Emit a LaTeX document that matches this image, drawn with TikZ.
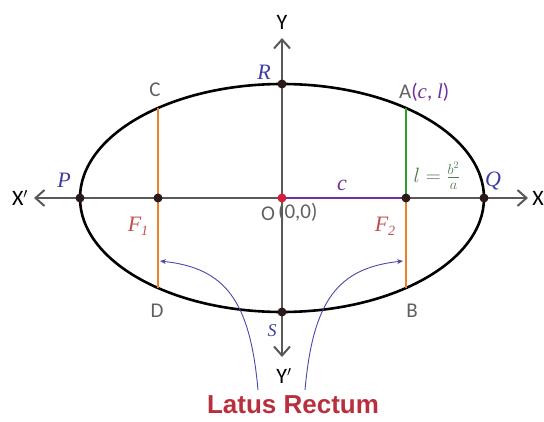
\documentclass[tikz,border=0pt]{standalone}
\usepackage{fontspec}
\setmainfont{Carlito}
\setsansfont{Liberation Sans}
\newfontfamily\lblserif{Liberation Serif}
\usetikzlibrary{arrows.meta}
\definecolor{axisgray}{HTML}{595959}
\definecolor{lblgray}{HTML}{606060}
\definecolor{ptblue}{HTML}{3C3CA8}
\definecolor{focred}{HTML}{C0504D}
\definecolor{cpurple}{HTML}{7030A0}
\definecolor{lrorange}{HTML}{F07D28}
\definecolor{lrgreen}{HTML}{2E9E2E}
\definecolor{eqgreen}{HTML}{4E7A4E}
\definecolor{arcblue}{HTML}{4848A8}
\definecolor{titlered}{HTML}{B8303E}
\definecolor{dotdark}{HTML}{2A1A1A}
\definecolor{dotred}{HTML}{D0203C}
\newcommand{\seritl}[1]{{\lblserif\itshape #1}}
\newcommand{\subnum}[1]{\raisebox{-4pt}{\fontsize{14}{14}\selectfont\lblserif #1}}
\tikzset{
  axisline/.style={draw=axisgray, line width=2.8pt, -{Straight Barb[length=9pt,width=16pt,line width=2pt]}},
  lrline/.style={line width=2.2pt},
  dotpt/.style={circle, fill=dotdark, inner sep=0pt, minimum size=9pt},
  lbl/.style={font=\fontsize{21}{21}\selectfont, text=lblgray, inner sep=0pt},
  axlbl/.style={font=\fontsize{22}{22}\selectfont, text=black, inner sep=0pt},
  mlbl/.style={font=\fontsize{22}{22}\selectfont\lblserif\itshape, inner sep=0pt},
  arcline/.style={draw=arcblue, line width=0.9pt, -{Stealth[length=6pt,width=5pt]}}
}
\begin{document}
\begin{tikzpicture}[x=1pt,y=-1pt]
\useasboundingbox (0,0) rectangle (544,422);
% key coordinates
\coordinate (O) at (282,198);
\coordinate (P) at (80,198);
\coordinate (Q) at (484,198);
\coordinate (R) at (282,84);
\coordinate (S) at (282,312);
\coordinate (F1) at (158,198);
\coordinate (F2) at (406,198);
\coordinate (A) at (406,108);
\coordinate (B) at (406,288);
\coordinate (C) at (158,108);
\coordinate (D) at (158,288);
\coordinate (Xl) at (34,198);
\coordinate (Xr) at (528,198);
\coordinate (Yt) at (282,38);
\coordinate (Yb) at (282,357);
% axes
\draw[axisline] (O) -- (Xl);
\draw[axisline] (O) -- (Xr);
\draw[axisline] (O) -- (Yt);
\draw[axisline] (O) -- (Yb);
% ellipse
\draw[line width=2.6pt, black] (O) ellipse [x radius=202, y radius=114];
% latus recta
\draw[lrline, draw=lrorange] (C) -- (D);
\draw[lrline, draw=lrgreen] (A) -- (F2);
\draw[lrline, draw=lrorange] (F2) -- (B);
% c segment
\draw[line width=2.8pt, draw=cpurple] (O) -- (F2);
% dots
\foreach \p in {P,Q,R,S,F1,F2} \node[dotpt] at (\p) {};
\node[dotpt, fill=dotred] at (O) {};
% blue curves
\coordinate (LB) at (258,390);
\coordinate (LT) at (160,261);
\coordinate (RB) at (305,390);
\coordinate (RT) at (403,261);
\draw[arcline] (LB) .. controls (250,300) and (225,268) .. (LT);
\draw[arcline] (RB) .. controls (313,300) and (338,268) .. (RT);
% labels
\node[axlbl] (xl) at (20,198) {X$'$};
\node[axlbl, anchor=east] (xr) at (544,198) {X};
\node[axlbl] (yt) at (282,22) {Y};
\node[axlbl] (yb) at (284,376) {Y$'$};
\node[mlbl, text=ptblue] (pl) at (64,180) {P};
\node[mlbl, text=ptblue] (ql) at (493,181) {Q};
\node[mlbl, text=ptblue] (rl) at (264,72) {R};
\node[mlbl, text=ptblue, font=\fontsize{18}{18}\selectfont\lblserif\itshape] (sl) at (272,331) {S};
\node[lbl] (cl) at (155,90) {C};
\node[lbl, anchor=west] (al) at (399,92) {A\textcolor{cpurple}{(\seritl{c}, \seritl{l})}};
\node[lbl] (dl) at (157,311) {D};
\node[lbl] (bl) at (412,311) {B};
\node[mlbl, text=focred] (f1l) at (138,226) {F\subnum{1}};
\node[mlbl, text=focred] (f2l) at (385,226) {F\subnum{2}};
\node[lbl] (ol) at (268,214) {O};
\node[lbl, anchor=west] (zl) at (278,212) {(0,0)};
\node[mlbl, text=cpurple] (csl) at (342,185) {c};
\node[font=\fontsize{20}{20}\selectfont, text=eqgreen, inner sep=0pt] (eq) at (437,176) {$l=\frac{b^2}{a}$};
\node[font=\sffamily\bfseries\fontsize{26}{26}\selectfont, text=titlered, inner sep=0pt] (title) at (293,405) {Latus Rectum};
\end{tikzpicture}
\end{document}
